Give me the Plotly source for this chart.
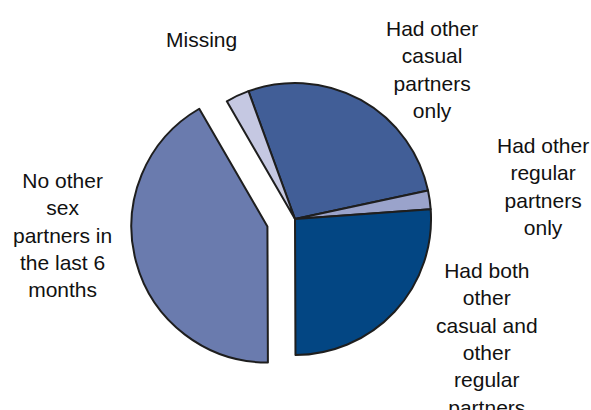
import plotly.graph_objects as go

categories = [
    "Had other casual partners only",
    "Had other regular partners only",
    "Had both other casual and other regular partners",
    "No other sex partners in the last 6 months",
    "Missing",
]
values = [27.2, 2.2, 26.1, 41.7, 2.8]
colors = ["#415E97", "#9AA3CB", "#034683", "#6A7BAE", "#C5C8E2"]
pulls = [0, 0, 0, 0.21, 0]

label_texts = [
    "Had other<br>casual<br>partners<br>only",
    "Had other<br>regular<br>partners<br>only",
    "Had both<br>other<br>casual and<br>other<br>regular<br>partners",
    "No other<br>sex<br>partners in<br>the last 6<br>months",
    "Missing",
]

W, H = 591, 410
cx, cy = 295, 219
half = 164.6

fig = go.Figure(go.Pie(
    labels=categories,
    values=values,
    sort=False,
    direction="clockwise",
    rotation=340,
    pull=pulls,
    marker=dict(colors=colors, line=dict(color="#1E1E1E", width=2)),
    textinfo="none",
    hoverinfo="label+percent",
    showlegend=False,
    domain=dict(x=[(cx - 200) / W, (cx + 200) / W],
                y=[1 - (cy + half) / H, 1 - (cy - half) / H]),
))

# label anchor positions (pixels from top-left), top of text block
label_pos = [(432, 15), (543, 132), (487, 257), (62, 167), (201, 26)]
for txt, (px, py) in zip(label_texts, label_pos):
    fig.add_annotation(
        text=txt, x=px / W, y=1 - py / H, xref="paper", yref="paper",
        xanchor="center", yanchor="top", showarrow=False, align="center",
        font=dict(family="Liberation Sans, Arial, sans-serif", size=21, color="#111111"),
    )

fig.update_layout(
    width=W, height=H,
    margin=dict(l=0, r=0, t=0, b=0),
    paper_bgcolor="white", plot_bgcolor="white",
)
fig.write_html(
    "out.html",
    config={"displayModeBar": False},
    post_script="document.body.style.margin='0px';document.body.style.overflow='hidden';",
)
